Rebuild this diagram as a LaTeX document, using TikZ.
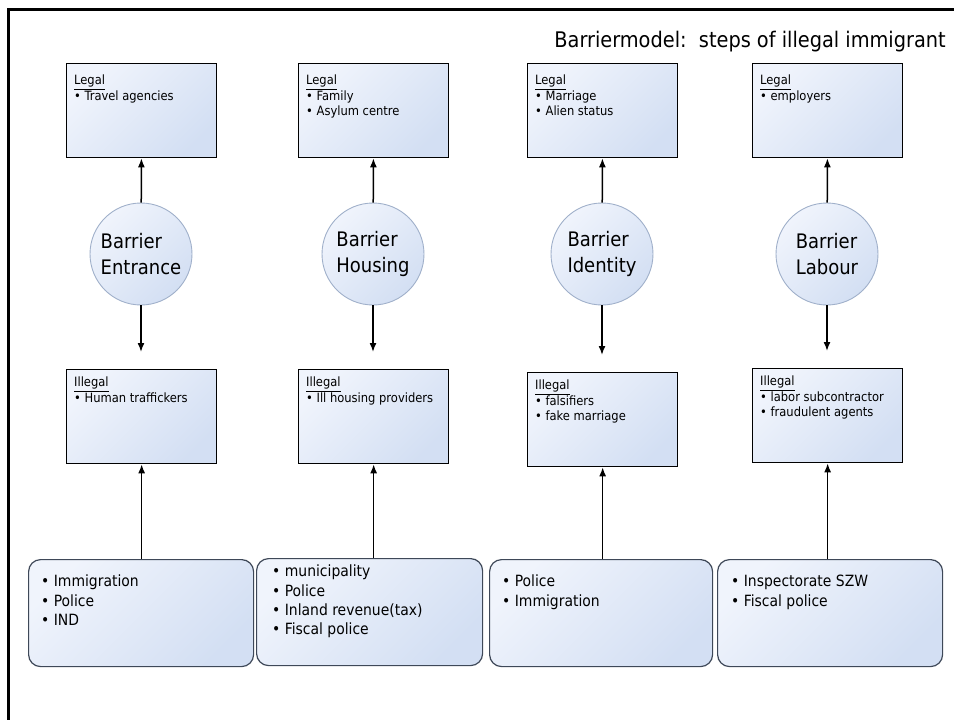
\documentclass[tikz,border=0pt]{standalone}
\usepackage{fontspec}
\setmainfont{DejaVu Sans Condensed}
\usetikzlibrary{arrows.meta}
\definecolor{lite}{HTML}{F0F4FC}
\definecolor{deep}{HTML}{D3DFF3}
\definecolor{ringline}{HTML}{A0B0CA}
\definecolor{roundline}{HTML}{3E4858}
\newcommand\bul{\textbullet\ }
\begin{document}
\begin{tikzpicture}[x=1pt,y=-1pt,
  actorbox/.style={draw=black,line width=1.3pt,top color=lite,bottom color=deep,shading angle=45,
    minimum width=150pt,minimum height=94pt,inner sep=0pt,anchor=north west},
  barrier/.style={circle,draw=ringline,line width=0.9pt,top color=lite,bottom color=deep,shading angle=45,
    minimum size=102pt,inner sep=0pt,align=left,font=\fontsize{20}{26}\selectfont},
  agency/.style={draw=roundline,line width=1.2pt,rounded corners=12pt,top color=lite,bottom color=deep,shading angle=45,
    minimum height=107pt,inner sep=0pt,anchor=north west},
  smalltext/.style={anchor=north west,inner sep=0pt,align=left,font=\fontsize{12.8}{15.5}\selectfont},
  bigtext/.style={anchor=north west,inner sep=0pt,align=left,font=\fontsize{15.5}{19.3}\selectfont},
  arr/.style={-{Latex[length=9pt,width=7pt]},line width=1.5pt}]
\useasboundingbox (0,0) rectangle (954,720);
% frame
\draw[line width=3.5pt] (8.5,720) -- (8.5,9.5) -- (954,9.5);
\node[anchor=east,inner sep=0pt,font=\fontsize{21.5}{24}\selectfont] (title) at (946,42) {Barriermodel:\ \ steps of illegal immigrant};
% legal
\node[actorbox] (legal1) at (66,63) {};
\node[actorbox] (legal2) at (298,63) {};
\node[actorbox] (legal3) at (527,63) {};
\node[actorbox] (legal4) at (752,63) {};
\node[smalltext] (legaltext1) at ([shift={(8,12)}]legal1.north west) {\underline{Legal}\\\bul Travel agencies};
\node[smalltext] (legaltext2) at ([shift={(8,12)}]legal2.north west) {\underline{Legal}\\\bul Family\\\bul Asylum centre};
\node[smalltext] (legaltext3) at ([shift={(8,12)}]legal3.north west) {\underline{Legal}\\\bul Marriage\\\bul Alien status};
\node[smalltext] (legaltext4) at ([shift={(8,12)}]legal4.north west) {\underline{Legal}\\\bul employers};
% barriers
\node[barrier] (entrance) at (141,254) {Barrier\\Entrance};
\node[barrier] (housing) at (373,254) {Barrier\\Housing};
\node[barrier] (identity) at (602,254) {Barrier\\Identity};
\node[barrier] (labour) at (827,254) {Barrier\\Labour};
% illegal
\node[actorbox] (illegal1) at (66,369) {};
\node[actorbox] (illegal2) at (298,369) {};
\node[actorbox] (illegal3) at (527,372) {};
\node[actorbox] (illegal4) at (752,368) {};
\node[smalltext] (illegaltext1) at ([shift={(8,8)}]illegal1.north west) {\underline{Illegal}\\\bul Human traffickers};
\node[smalltext] (illegaltext2) at ([shift={(8,8)}]illegal2.north west) {\underline{Illegal}\\\bul Ill housing providers};
\node[smalltext] (illegaltext3) at ([shift={(8,8)}]illegal3.north west) {\underline{Illegal}\\\bul falsifiers\\\bul fake marriage};
\node[smalltext] (illegaltext4) at ([shift={(8,8)}]illegal4.north west) {\underline{Illegal}\\\bul labor subcontractor\\\bul fraudulent agents};
% agencies
\node[agency,minimum width=225pt] (agency1) at (28,559) {};
\node[agency,minimum width=226pt] (agency2) at (256,558) {};
\node[agency,minimum width=223pt] (agency3) at (489,559) {};
\node[agency,minimum width=225pt] (agency4) at (717,559) {};
\node[bigtext] (agencytext1) at ([shift={(13,16)}]agency1.north west) {\bul Immigration\\\bul Police\\\bul IND};
\node[bigtext] (agencytext2) at ([shift={(16,7)}]agency2.north west) {\bul municipality\\\bul Police\\\bul Inland revenue(tax)\\\bul Fiscal police};
\node[bigtext] (agencytext3) at ([shift={(13,16)}]agency3.north west) {\bul Police\\\bul Immigration};
\node[bigtext] (agencytext4) at ([shift={(14,16)}]agency4.north west) {\bul Inspectorate SZW\\\bul Fiscal police};
% arrows
\coordinate (down1) at (141,352);
\coordinate (down2) at (373,352);
\coordinate (down3) at (602,355);
\coordinate (down4) at (827,351);
\draw[arr] (entrance) -- (legal1);
\draw[arr] (housing) -- (legal2);
\draw[arr] (identity) -- (legal3);
\draw[arr] (labour) -- (legal4);
\draw[arr] (entrance) -- (down1);
\draw[arr] (housing) -- (down2);
\draw[arr] (identity) -- (down3);
\draw[arr] (labour) -- (down4);
\draw[arr] (agency1.north -| illegal1.south) -- (illegal1.south);
\draw[arr] (agency2.north -| illegal2.south) -- (illegal2.south);
\draw[arr] (agency3.north -| illegal3.south) -- (illegal3.south);
\draw[arr] (agency4.north -| illegal4.south) -- (illegal4.south);
\end{tikzpicture}
\end{document}
